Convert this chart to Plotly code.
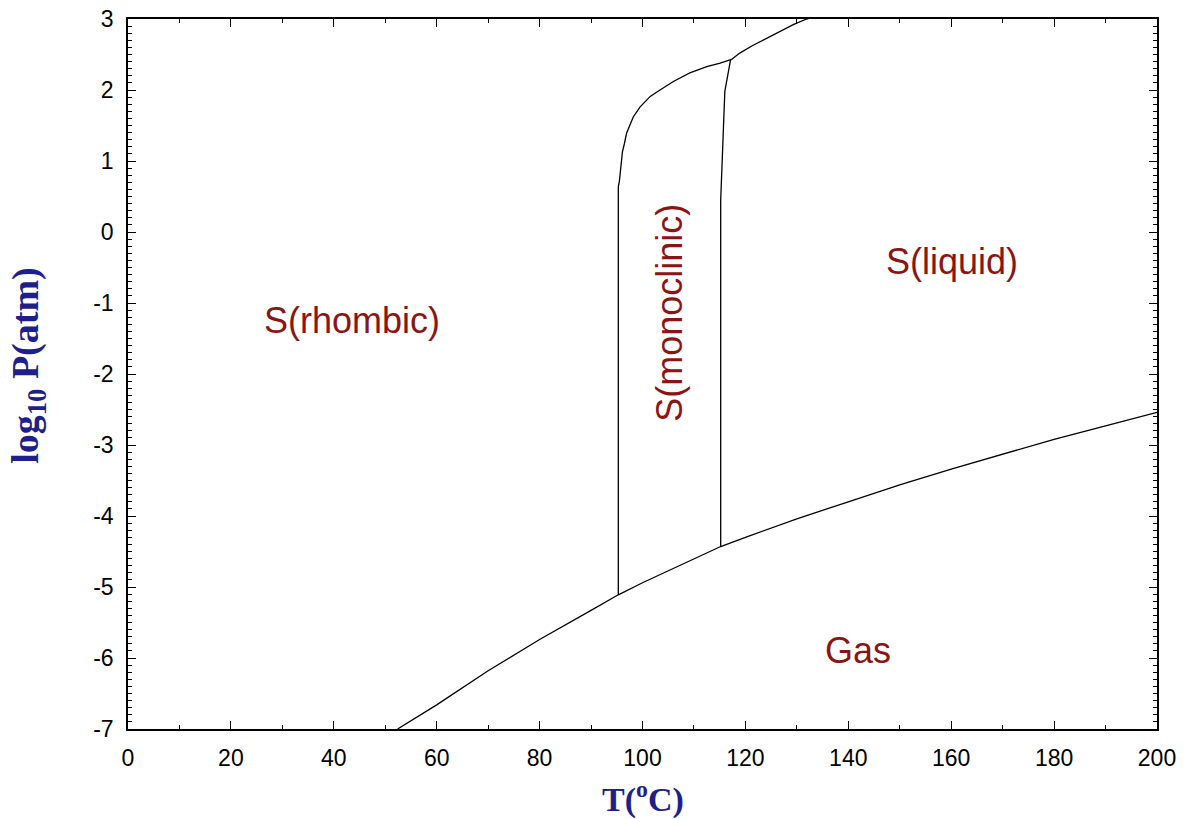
import plotly.graph_objects as go

# ---- data ----
gas_T = [52.4, 60, 70, 80, 90, 95.3, 100, 105, 110, 115.2, 120, 130, 140, 150, 160, 170, 180, 190, 200]
gas_logP = [-7.0, -6.66, -6.18, -5.74, -5.33, -5.11, -4.94, -4.77, -4.60, -4.43, -4.30, -4.04,
            -3.80, -3.56, -3.34, -3.13, -2.92, -2.73, -2.54]

rm_T = [95.3, 95.3, 95.3, 95.5, 95.8, 96.1, 96.5, 96.9, 97.4, 98.2, 99.5, 101.5, 103.4, 106.0,
        109.2, 112.5, 115.1, 117.3]
rm_logP = [-5.11, 0.0, 0.64, 0.71, 0.97, 1.13, 1.25, 1.39, 1.48, 1.62, 1.76, 1.91, 2.0, 2.12,
           2.24, 2.33, 2.38, 2.43]

ml_T = [115.2, 115.2, 115.4, 115.6, 115.8, 116.0, 116.4, 116.8, 117.1, 117.3]
ml_logP = [-4.43, 0.45, 0.83, 1.20, 1.72, 1.98, 2.14, 2.31, 2.42, 2.43]

lu_T = [117.3, 118.9, 121.5, 124.1, 126.7, 129.3, 131.9, 133.0]
lu_logP = [2.43, 2.52, 2.63, 2.73, 2.82, 2.92, 3.0, 3.02]

x_ticks = [0, 20, 40, 60, 80, 100, 120, 140, 160, 180, 200]
y_ticks = [-7, -6, -5, -4, -3, -2, -1, 0, 1, 2, 3]

region_labels = ["S(rhombic)", "S(monoclinic)", "S(liquid)", "Gas"]
region_T = [43.5, 105.3, 160.2, 141.9]
region_logP = [-1.24, -1.14, -0.42, -5.9]
region_angle = [0, -90, 0, 0]

# ---- figure ----
LABEL_COLOR = "#8B1414"
TITLE_COLOR = "#1E1E8C"
line_style = dict(color="black", width=1.3)

fig = go.Figure()
for xs, ys in [(gas_T, gas_logP), (rm_T, rm_logP), (ml_T, ml_logP), (lu_T, lu_logP)]:
    fig.add_trace(go.Scatter(x=xs, y=ys, mode="lines", line=line_style,
                             hoverinfo="skip", showlegend=False))

annotations = []
for txt, tx, ty, ang in zip(region_labels, region_T, region_logP, region_angle):
    annotations.append(dict(x=tx, y=ty, xref="x", yref="y", text=txt, showarrow=False,
                            textangle=ang,
                            font=dict(family="Arial, Liberation Sans", size=36, color=LABEL_COLOR)))

annotations.append(dict(x=0.5, y=-0.096, xref="paper", yref="paper",
                        text="T(<sup>o</sup>C)", showarrow=False, yanchor="middle",
                        font=dict(family="Times New Roman, Liberation Serif", size=34,
                                  color=TITLE_COLOR, weight="bold")))
annotations.append(dict(x=-0.0972, y=0.513, xref="paper", yref="paper",
                        text="log<sub>10</sub> P(atm)", showarrow=False, textangle=-90,
                        xanchor="center", yanchor="middle",
                        font=dict(family="Times New Roman, Liberation Serif", size=38,
                                  color=TITLE_COLOR, weight="bold")))

axis_common = dict(showgrid=False, zeroline=False, showline=True, linecolor="black",
                   linewidth=1.5, mirror="allticks", ticks="inside", ticklen=8,
                   tickwidth=1.3, tickcolor="black", ticklabeloverflow="allow",
                   automargin=False,
                   tickfont=dict(family="Arial, Liberation Sans", size=23, color="black"))

fig.update_layout(
    width=1189, height=819,
    margin=dict(l=120, r=40, t=11, b=98),
    plot_bgcolor="white", paper_bgcolor="white",
    xaxis=dict(range=[0, 200], tickvals=x_ticks, ticktext=[str(v) for v in x_ticks],
               minor=dict(dtick=10, tick0=0, ticks="inside", ticklen=4, tickcolor="black",
                          tickwidth=1.2),
               ticklabelstandoff=8, **axis_common),
    yaxis=dict(range=[-7, 3], tickvals=y_ticks, ticktext=[str(v) for v in y_ticks],
               minor=dict(dtick=0.1, tick0=0, ticks="inside", ticklen=4, tickcolor="black",
                          tickwidth=1.2),
               ticklabelstandoff=8, **axis_common),
    annotations=annotations,
)

fig.write_html("out.html")
